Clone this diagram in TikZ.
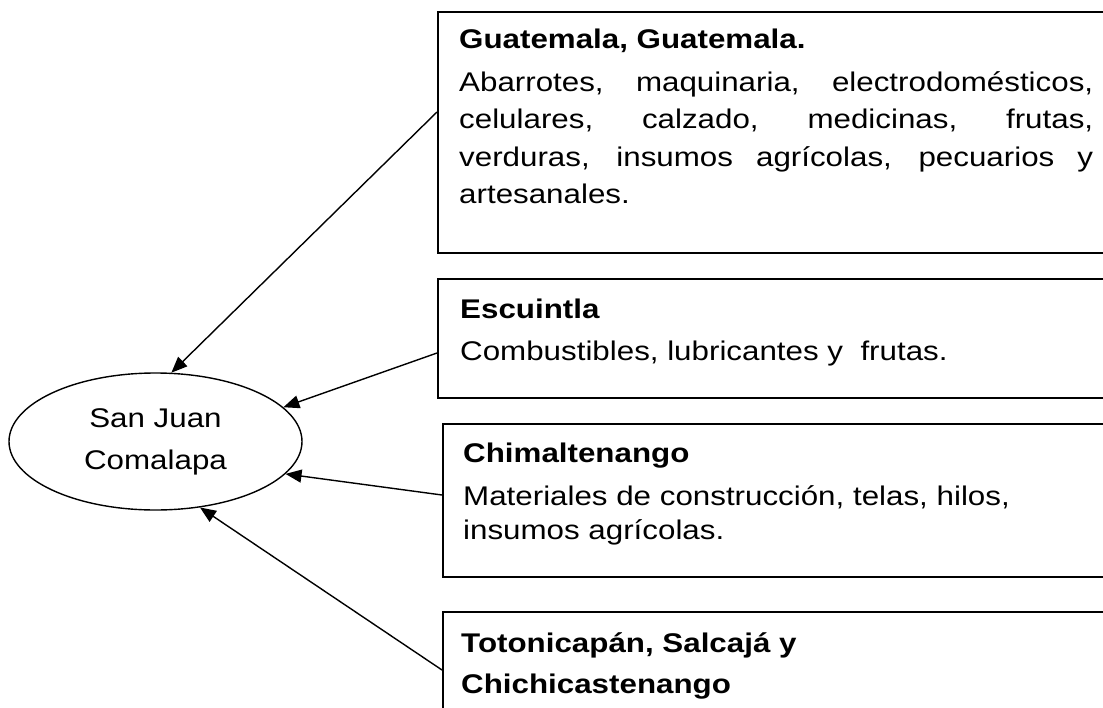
\documentclass[tikz,border=0pt]{standalone}
\usepackage{fontspec}
\setmainfont{Liberation Sans}[FakeStretch=1.16]
\usetikzlibrary{shapes.geometric,arrows.meta}
\begin{document}
\begin{tikzpicture}[x=1pt,y=-1pt,
  box/.style={draw, line width=1.6pt, rectangle, anchor=north west, inner sep=0pt},
  txt/.style={anchor=north west, inner sep=0pt, align=left, font=\fontsize{27}{37.5}\selectfont},
  arr/.style={-{Triangle[length=16pt,width=13pt]}, line width=1.4pt},
]
\useasboundingbox (0,0) rectangle (1103,707);
% boxes
\node[box, minimum width=690pt, minimum height=241pt] (b1) at (437,11) {};
\node[box, minimum width=690pt, minimum height=119pt] (b2) at (437,278) {};
\node[box, minimum width=690pt, minimum height=153pt] (b3) at (442,423) {};
\node[box, minimum width=690pt, minimum height=140pt] (b4) at (442,611) {};
% texts
\node[txt] (t1) at (459,21.75) {%
\textbf{\strut Guatemala, Guatemala.}\\[5.5pt]
\makebox[634pt][s]{Abarrotes, maquinaria, electrodomésticos,}\\
\makebox[634pt][s]{celulares, calzado, medicinas, frutas,}\\
\makebox[634pt][s]{verduras, insumos agrícolas, pecuarios y}\\
artesanales.};
\node[txt] (t2) at (460,291.75) {%
\textbf{\strut Escuintla}\\[4.5pt]
Combustibles, lubricantes y\ \ frutas.};
\node[txt] (t3) at (463,435.75) {%
\textbf{\strut Chimaltenango}\\[5.5pt]
Materiales de construcción, telas, hilos,\\[-3.5pt]
insumos agrícolas.};
\node[txt] (t4) at (461,625.75) {%
\textbf{\strut Totonicapán, Salcajá y}\\[3.5pt]
\textbf{Chichicastenango}};
% ellipse
\node[draw, ellipse, line width=1.4pt, minimum width=293pt, minimum height=137pt,
      align=center, font=\fontsize{27}{42}\selectfont] (sj) at (155.5,441.5) {San Juan\\Comalapa};
% arrow start points on the boxes
\coordinate (s1) at ([yshift=-101pt]b1.north west);
\coordinate (s2) at ([yshift=-75pt]b2.north west);
\coordinate (s3) at ([yshift=-72pt]b3.north west);
\coordinate (s4) at ([yshift=-59pt]b4.north west);
\draw[arr] (s1) -- (sj.77);
\draw[arr] (s2) -- (sj.15.5);
\draw[arr] (s3) -- (sj.-14);
\draw[arr] (s4) -- (sj.-56);
\end{tikzpicture}
\end{document}
